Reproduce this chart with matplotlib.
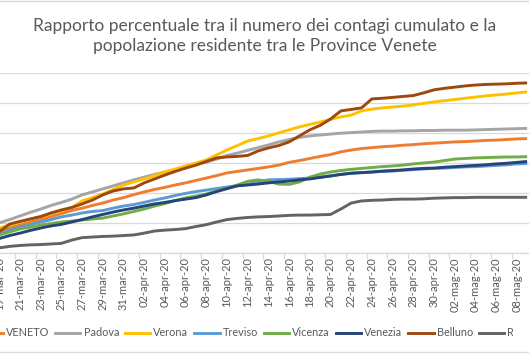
import matplotlib
matplotlib.use("Agg")
import matplotlib.pyplot as plt
from matplotlib.lines import Line2D
from matplotlib.transforms import Bbox
import numpy as np

# ---------------- data (percent of resident population) ----------------
months_it = {3: "mar", 4: "apr", 5: "mag"}
start_day = (19, 3)  # 19-mar-2020
n_days = 52          # 19-mar-20 .. 09-mag-20

VENETO = [.074, .084, .094, .104, .112, .122, .132, .142, .150, .159, .167, .177, .185, .195, .204, .212, .219, .227,
          .234, .242, .250, .258, .267, .272, .277, .282, .287, .293, .302, .308, .315, .322, .328, .337, .343, .348,
          .351, .354, .356, .359, .361, .364, .366, .368, .370, .371, .373, .375, .376, .378, .380, .381]
Padova = [.101, .112, .124, .136, .147, .159, .169, .180, .194, .204, .214, .224, .234, .244, .253, .262, .270, .278,
          .287, .295, .303, .313, .325, .333, .342, .351, .360, .370, .378, .385, .390, .393, .396, .399, .401, .403,
          .405, .406, .406, .407, .407, .408, .408, .409, .409, .409, .410, .411, .412, .413, .414, .415]
Verona = [.084, .094, .104, .114, .122, .131, .141, .152, .174, .185, .197, .212, .227, .237, .247, .258, .270, .280,
          .290, .300, .310, .327, .343, .358, .373, .381, .390, .400, .410, .420, .428, .436, .445, .453, .459, .473,
          .479, .483, .486, .489, .493, .498, .503, .507, .511, .515, .519, .523, .526, .529, .533, .536]
Treviso = [.067, .077, .087, .096, .104, .112, .121, .127, .134, .139, .142, .150, .157, .162, .169, .177, .184, .192,
           .199, .205, .210, .215, .220, .225, .229, .237, .244, .245, .246, .248, .250, .253, .257, .262, .266, .268,
           .270, .272, .273, .276, .278, .280, .282, .283, .285, .287, .288, .290, .292, .294, .297, .298]
Vicenza = [.061, .071, .081, .087, .094, .099, .104, .107, .111, .114, .117, .124, .131, .139, .147, .157, .165, .175,
           .184, .190, .197, .207, .215, .227, .239, .244, .239, .230, .229, .237, .253, .263, .270, .275, .279, .282,
           .285, .288, .290, .293, .297, .300, .303, .308, .313, .315, .317, .318, .319, .320, .320, .321]
Venezia = [.049, .059, .067, .076, .084, .091, .096, .104, .112, .121, .129, .137, .144, .150, .157, .164, .169, .175,
           .180, .185, .194, .205, .215, .224, .227, .230, .234, .237, .240, .244, .247, .252, .257, .262, .266, .268,
           .270, .273, .275, .277, .280, .282, .283, .286, .288, .290, .292, .294, .297, .299, .302, .305]
Belluno = [.072, .097, .106, .114, .122, .134, .144, .152, .164, .177, .194, .207, .214, .217, .234, .247, .260, .272,
           .283, .293, .305, .317, .320, .322, .325, .340, .350, .358, .370, .390, .410, .425, .446, .473, .478, .483,
           .513, .515, .518, .521, .524, .533, .543, .548, .552, .556, .559, .561, .562, .563, .565, .566]
Rovigo = [.018, .023, .026, .028, .029, .031, .033, .044, .052, .054, .056, .057, .059, .061, .067, .074, .077, .079,
          .082, .089, .095, .104, .112, .116, .119, .121, .122, .124, .126, .127, .127, .128, .129, .147, .167, .174,
          .176, .177, .179, .180, .180, .181, .183, .184, .185, .185, .186, .186, .186, .186, .186, .186]

series_names = ["VENETO", "Padova", "Verona", "Treviso", "Vicenza", "Venezia", "Belluno", "Rovigo"]
series_vals = [VENETO, Padova, Verona, Treviso, Vicenza, Venezia, Belluno, Rovigo]
colors = ["#ED7D31", "#A5A5A5", "#FFC000", "#5B9BD5", "#70AD47", "#264478", "#9E480E", "#636363"]

title = "Rapporto percentuale tra il numero dei contagi cumulato e la\npopolazione residente tra le Province Venete"

# date labels
days_in_month = {3: 31, 4: 30, 5: 31}
labels = []
d, m = start_day
for _ in range(n_days):
    labels.append(f"{d:02d}-{months_it[m]}-20")
    d += 1
    if d > days_in_month[m]:
        d = 1
        m += 1

# ---------------- figure ----------------
FONT = "Lato"
W, H = 529, 353
fig = plt.figure(figsize=(W / 100, H / 100), dpi=100)
fig.patch.set_facecolor("white")

# plot area extends past figure edges (cropped screenshot)
x_left_px, x_right_px = -5.9, 532.3
y_top_px, y_bot_px = 72.7, 253.3
ax = fig.add_axes([x_left_px / W, 1 - y_bot_px / H, (x_right_px - x_left_px) / W, (y_bot_px - y_top_px) / H])
ax.set_xlim(-0.5, n_days - 0.5)
ax.set_ylim(0, 0.6)
ax.set_facecolor("none")

ax.set_yticks(np.arange(0, 0.61, 0.1))
ax.yaxis.grid(True, color="#D9D9D9", lw=0.9)
ax.set_axisbelow(True)
ax.tick_params(axis="y", length=0, labelleft=False)

for s in ["top", "right", "left"]:
    ax.spines[s].set_visible(False)
ax.spines["bottom"].set_color("#D9D9D9")
ax.spines["bottom"].set_linewidth(0.9)

x = np.arange(n_days)
for name, vals, c in zip(series_names, series_vals, colors):
    ax.plot(x, vals, color=c, lw=2.1, solid_joinstyle="round", solid_capstyle="butt", label=name)

ax.set_xticks(x[::2])
ax.set_xticklabels(labels[::2], rotation=90, fontsize=8, color="#595959", family=FONT)
ax.tick_params(axis="x", length=0, pad=3)
ax.set_xticks(np.arange(1.5, n_days, 2), minor=True)
ax.tick_params(axis="x", which="minor", length=4, color="#D9D9D9", width=0.9)

# title
fig.text(0.5, 1 - 36 / H, title, ha="center", va="center", fontsize=12.5, color="#595959",
         family=FONT, linespacing=1.25)

# legend (the original legend box is clipped on the right)
handles = [Line2D([0], [0], color=c, lw=2.1) for c in colors]
leg = fig.legend(handles, series_names, loc="center", bbox_to_anchor=(259 / W, 1 - 333 / H), ncol=8,
                 frameon=False, prop={"family": FONT, "size": 7.85}, labelcolor="#595959", handlelength=2.35,
                 handletextpad=0.28, columnspacing=0.52, borderpad=0, borderaxespad=0)
clip = Bbox([[0, 0], [513, H]])
for t in leg.get_texts():
    t.set_clip_box(clip)
    t.set_clip_on(True)

# chart-area border lines (top and bottom visible)
fig.add_artist(Line2D([0, 1], [1 - 1 / H, 1 - 1 / H], transform=fig.transFigure, color="#D9D9D9", lw=1))
fig.add_artist(Line2D([0, 1], [1 - 352 / H, 1 - 352 / H], transform=fig.transFigure, color="#D9D9D9", lw=1))

fig.savefig("out.png", dpi=100)
